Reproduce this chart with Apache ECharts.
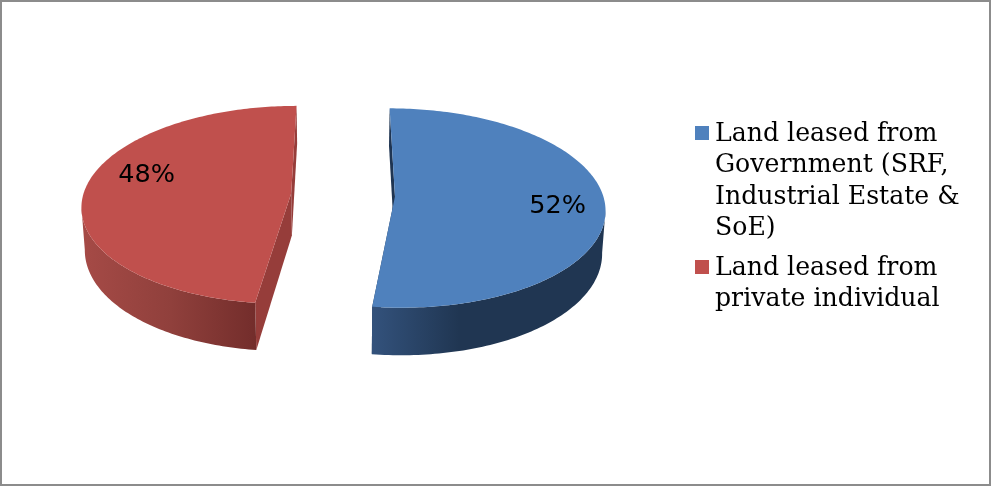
<!DOCTYPE html>
<html>
<head>
<meta charset="utf-8">
<style>html,body{margin:0;padding:0;background:#fff}#chart{width:992px;height:487px}</style>
<script src="https://cdn.jsdelivr.net/npm/echarts@6/dist/echarts.min.js"></script>
</head>
<body>
<div id="chart"></div>
<script>
// Lease categories and their shares, in percent
const categories = [
  'Land leased from\nGovernment (SRF,\nIndustrial Estate &\nSoE)',
  'Land leased from\nprivate individual'
];
const shares = [52, 48];

// One colour set per slice: top face, cut faces, rim gradient stops
const topColors = ['#4f81bd', '#c0504d'];
const cutColors = ['#1f3552', '#963d3a'];
const rimStops = [
  [[0, '#33527c'], [0.38, '#203652'], [1, '#203652']],
  [[0, '#a54a46'], [0.5, '#90403c'], [1, '#732d2b']]
];

// Camera and disc geometry for the tilted pie
const geo = { cx: 343, cy: 195, rx: 208, ry: 98, depth: 42, explode: 0.25, persp: 0.115, taper: 0.987 };
const labelSpots = [{ angle: 97.5, radius: 0.775 }, { angle: 284.5, radius: 0.74 }];

function project(u, v) {
  const s = 1 / (1 - geo.persp * v);
  return [geo.cx + geo.rx * u * s, geo.cy + geo.ry * v * s];
}
function lower(p, v) {
  const s = 1 / (1 - geo.persp * v);
  return [geo.cx + (p[0] - geo.cx) * geo.taper, p[1] + geo.depth * s];
}
const rad = d => d * Math.PI / 180;

// Index of the point furthest from the pie's vertical axis
function outermost(points) {
  let best = 0;
  points.forEach((p, j) => {
    if (Math.abs(p[0] - geo.cx) > Math.abs(points[best][0] - geo.cx)) best = j;
  });
  return best;
}

function renderSlice(params, api) {
  const i = params.dataIndex;
  const total = shares.reduce((a, b) => a + b, 0);
  const before = shares.slice(0, i).reduce((a, b) => a + b, 0);
  const start = before / total * 360;
  const end = start + api.value(0) / total * 360;
  const mid = rad((start + end) / 2);
  const eu = geo.explode * Math.sin(mid);
  const ev = -geo.explode * Math.cos(mid);

  const at = (deg, r) => {
    const v = ev - r * Math.cos(rad(deg));
    return { p: project(eu + r * Math.sin(rad(deg)), v), v };
  };
  const top = [], bottom = [], depths = [];
  for (let d = start; d <= end + 1e-6; d += (end - start) / 180) {
    const q = at(d, 1);
    top.push(q.p);
    depths.push(q.v);
    bottom.push(lower(q.p, q.v));
  }
  const apex = at(0, 0);
  const apexLow = lower(apex.p, apex.v);
  const poly = (points, fill) => ({ type: 'polygon', silent: true, shape: { points }, style: { fill } });

  // Only the part of the rim between the silhouette and the nearest cut faces the viewer
  const nearEndFirst = depths[0] > depths[depths.length - 1];
  const extTop = outermost(top), extLow = outermost(bottom);
  const rimTop = nearEndFirst ? top.slice(0, extTop + 1) : top.slice(extTop);
  const rimLow = nearEndFirst ? bottom.slice(0, extLow + 1) : bottom.slice(extLow);
  const rim = rimTop.concat(rimLow.slice().reverse());

  const xs = rimLow.map(p => p[0]);
  const minX = Math.min(...xs), maxX = Math.max(...xs);
  const stops = rimStops[i].map(s => ({ offset: s[0], color: s[1] }));
  const rimFill = { type: 'linear', x: minX, y: 0, x2: maxX, y2: 0, global: true, colorStops: stops };

  const lastTop = top[top.length - 1], lastLow = bottom[bottom.length - 1];
  const spot = labelSpots[i];
  const lab = at(spot.angle, spot.radius);

  return {
    type: 'group',
    children: [
      poly([top[0], apex.p, apexLow, bottom[0]], cutColors[i]),
      poly([lastTop, apex.p, apexLow, lastLow], cutColors[i]),
      poly(rim, rimFill),
      poly(top.concat([apex.p]), topColors[i]),
      {
        type: 'text', silent: true,
        style: {
          text: api.value(0) + '%', x: lab.p[0], y: lab.p[1],
          align: 'center', verticalAlign: 'middle',
          font: '25.5px "DejaVu Sans"', fill: '#000'
        }
      }
    ]
  };
}

// Key on the right: swatch lines up with the first text line of each entry
const keyFont = '25.2px "DejaVu Serif"';
const keyTops = [119, 253];
const keyGraphics = [{
  type: 'rect', silent: true,
  shape: { x: 1, y: 1, width: 989, height: 484 },
  style: { fill: 'none', stroke: '#8c8c8c', lineWidth: 2 }
}];
categories.forEach((name, i) => {
  keyGraphics.push({
    type: 'rect', silent: true,
    shape: { x: 695, y: keyTops[i] + 7, width: 14, height: 14 },
    style: { fill: topColors[i] }
  });
  keyGraphics.push({
    type: 'text', silent: true,
    style: { text: name, x: 715, y: keyTops[i], font: keyFont, lineHeight: 31.3, fill: '#000' }
  });
});

const chart = echarts.init(document.getElementById('chart'), null, { renderer: 'canvas' });
chart.setOption({
  animation: false,
  backgroundColor: '#fff',
  graphic: keyGraphics,
  series: [{
    type: 'custom',
    coordinateSystem: 'none',
    renderItem: renderSlice,
    encode: { value: 0 },
    data: shares.map((v, i) => ({ name: categories[i], value: [v] }))
  }]
});
</script>
</body>
</html>
